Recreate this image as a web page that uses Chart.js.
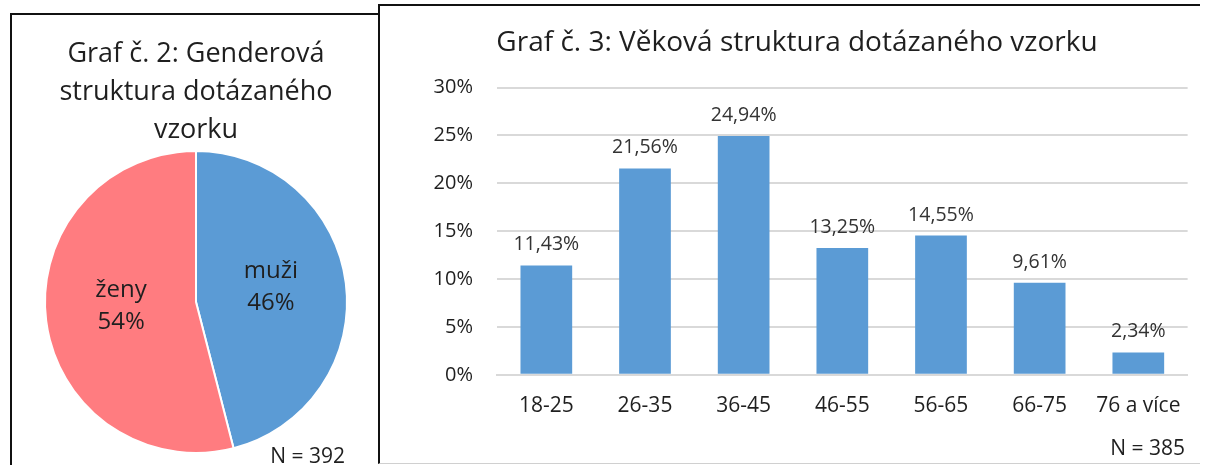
<!DOCTYPE html>
<html>
<head>
<meta charset="utf-8">
<script src="https://cdn.jsdelivr.net/npm/chart.js@4.4.1/dist/chart.umd.min.js"></script>
<style>
  body { margin: 0; background: #fff; width: 1208px; height: 465px; overflow: hidden; position: relative; font-family: "Open Sans", sans-serif; }
  .frame { position: absolute; box-sizing: border-box; }
  #leftFrame { left: 10px; top: 13px; width: 370px; height: 470px; border-left: 2px solid #111; border-top: 2px solid #111; }
  #rightFrame { left: 378px; top: 4px; width: 822px; height: 460px; border-left: 2px solid #111; border-top: 2px solid #111; border-bottom: 1px solid #d0d0d0; background: #fff; }
  canvas { position: absolute; }
  #pieChart { left: 12px; top: 15px; }
  #barChart { left: 380px; top: 6px; }
  .note { position: absolute; font-size: 21px; color: #1f1f1f; line-height: 1; white-space: nowrap; }
</style>
</head>
<body>
<div class="frame" id="leftFrame"></div>
<div class="frame" id="rightFrame"></div>
<canvas id="pieChart" width="366" height="450"></canvas>
<canvas id="barChart" width="820" height="456"></canvas>
<div class="note" style="right: 863px; top: 445px;">N = 392</div>
<div class="note" style="right: 23px; top: 437px;">N = 385</div>

<script>
// gender
const genderLabels = ["muži", "ženy"];
const genderValues = [46, 54];
const genderColors = ["#5B9BD5", "#FF7C80"];

// age
const ageLabels = ["18-25", "26-35", "36-45", "46-55", "56-65", "66-75", "76 a více"];
const ageValues = [11.43, 21.56, 24.94, 13.25, 14.55, 9.61, 2.34];
const yTicks = [0, 5, 10, 15, 20, 25, 30];

const textColor = "#1f1f1f";
const font = "'Open Sans', sans-serif";

// labels inside pie slices
const pieLabels = {
    id: "pieLabels",
    afterDatasetsDraw(chart) {
        const ctx = chart.ctx;
        const meta = chart.getDatasetMeta(0);
        ctx.save();
        ctx.font = "24px " + font;
        ctx.fillStyle = textColor;
        ctx.textAlign = "center";
        ctx.textBaseline = "middle";
        meta.data.forEach((arc, i) => {
            const p = arc.getCenterPoint();
            const y = p.y - 5;
            ctx.fillText(genderLabels[i], p.x, y - 16);
            ctx.fillText(genderValues[i] + "%", p.x, y + 16);
        });
        ctx.restore();
    }
};

// value labels above bars
const barLabels = {
    id: "barLabels",
    afterDatasetsDraw(chart) {
        const ctx = chart.ctx;
        const meta = chart.getDatasetMeta(0);
        ctx.save();
        ctx.font = "19.5px " + font;
        ctx.fillStyle = "#333";
        ctx.textAlign = "center";
        ctx.textBaseline = "alphabetic";
        meta.data.forEach((bar, i) => {
            const txt = ageValues[i].toFixed(2).replace(".", ",") + "%";
            ctx.fillText(txt, bar.x, bar.y - 15);
        });
        ctx.restore();
    }
};

new Chart(document.getElementById("pieChart"), {
    type: "pie",
    data: {
        labels: genderLabels,
        datasets: [{
            data: genderValues,
            backgroundColor: genderColors,
            borderColor: "#fff",
            borderWidth: 2
        }]
    },
    options: {
        responsive: false,
        animation: false,
        layout: { padding: { left: 32, right: 30, top: 0, bottom: 11 } },
        plugins: {
            legend: { display: false },
            tooltip: { enabled: false },
            title: {
                display: true,
                text: ["Graf č. 2: Genderová", "struktura dotázaného", "vzorku"],
                color: textColor,
                font: { family: font, size: 27, weight: "normal", lineHeight: 1.407 },
                padding: { top: 20, bottom: 1 }
            }
        }
    },
    plugins: [pieLabels]
});

new Chart(document.getElementById("barChart"), {
    type: "bar",
    data: {
        labels: ageLabels,
        datasets: [{
            data: ageValues,
            backgroundColor: "#5B9BD5",
            barPercentage: 0.524,
            categoryPercentage: 1.0
        }]
    },
    options: {
        responsive: false,
        animation: false,
        layout: { padding: { left: 22, right: 8, top: 0, bottom: 24 } },
        plugins: {
            legend: { display: false },
            tooltip: { enabled: false },
            title: {
                display: true,
                text: "Graf č. 3: Věková struktura dotázaného vzorku",
                color: textColor,
                font: { family: font, size: 28, weight: "normal", lineHeight: 1.2 },
                padding: { top: 20, bottom: 28 }
            }
        },
        scales: {
            x: {
                grid: { display: false, drawTicks: false },
                border: { display: true, color: "#D9D9D9", width: 2 },
                ticks: { color: textColor, padding: 19, font: { family: font, size: 21 } }
            },
            y: {
                min: 0,
                max: 30,
                afterFit(scale) { scale.width = 95; },
                afterBuildTicks(scale) { scale.ticks = yTicks.map(v => ({ value: v })); },
                grid: { color: "#D9D9D9", lineWidth: 2, drawTicks: false },
                border: { display: false },
                ticks: {
                    color: textColor,
                    padding: 24,
                    font: { family: font, size: 20 },
                    callback: v => v + "%"
                }
            }
        }
    },
    plugins: [barLabels]
});
</script>
</body>
</html>
